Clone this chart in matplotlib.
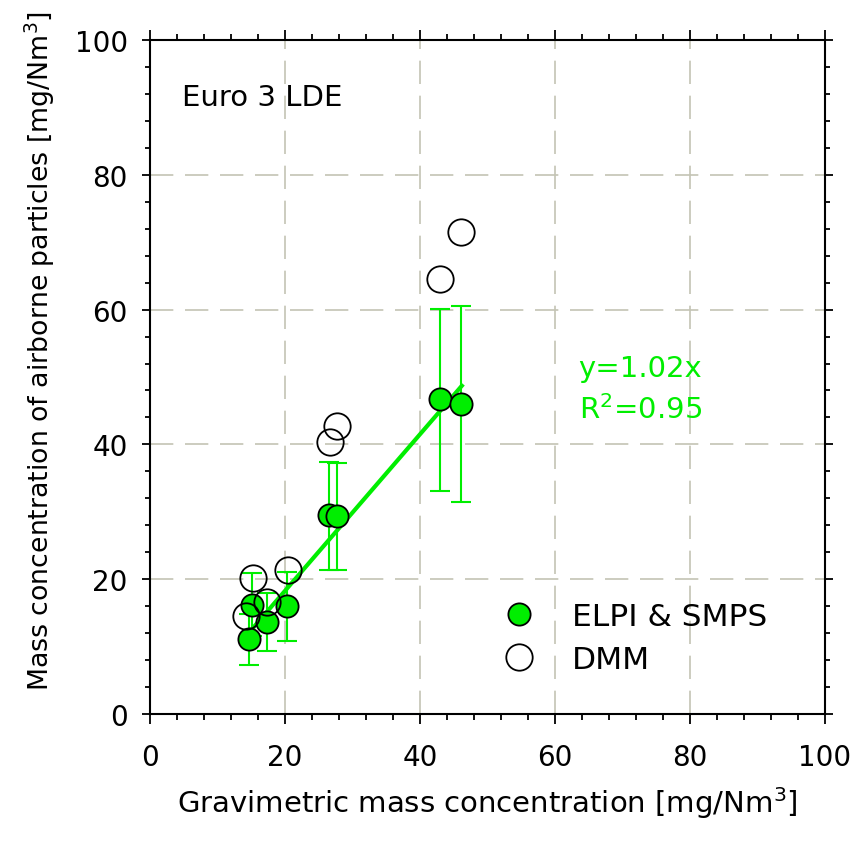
import matplotlib
matplotlib.use("Agg")
import matplotlib.pyplot as plt
from matplotlib.ticker import MultipleLocator

# gravimetric mass concentration (x) for each test point
grav = [14.6, 15.1, 17.4, 20.3, 26.5, 27.7, 43.0, 46.1]
# ELPI & SMPS estimate with error bar limits
elpi = [11.1, 16.2, 13.7, 16.1, 29.5, 29.4, 46.7, 46.0]
elpi_lo = [7.3, 11.6, 9.4, 10.9, 21.4, 21.3, 33.1, 31.4]
elpi_hi = [14.9, 20.9, 18.0, 21.0, 37.4, 37.3, 60.1, 60.6]
# DMM
dmm = [14.6, 20.2, 16.6, 21.4, 40.4, 42.8, 64.6, 71.5]
dmm_x = [14.3, 15.2, 17.4, 20.4, 26.7, 27.7, 43.0, 46.1]
# fitted line end points
fit_x = [14.6, 46.2]
fit_y = [12.0, 48.7]

green = "#00ee00"

fig = plt.figure(figsize=(8.55, 8.45), dpi=100)
ax = fig.add_axes([0.1754, 0.1538, 0.7895, 0.7977])

ax.set_xlim(0, 100)
ax.set_ylim(0, 100)
ax.xaxis.set_major_locator(MultipleLocator(20))
ax.yaxis.set_major_locator(MultipleLocator(20))
ax.xaxis.set_minor_locator(MultipleLocator(4))
ax.yaxis.set_minor_locator(MultipleLocator(4))
ax.tick_params(axis="x", which="major", direction="out", length=7, width=1.3,
               top=True, labelsize=20, pad=14)
ax.tick_params(axis="x", which="minor", direction="out", length=4.5, width=1.3, top=True)
ax.tick_params(axis="y", which="major", direction="out", length=6, width=1.3,
               right=True, labelsize=20, pad=10)
ax.tick_params(axis="y", which="minor", direction="out", length=3.5, width=1.3, right=True)
for s in ax.spines.values():
    s.set_linewidth(1.5)

ax.grid(True, which="major", color="#c4c4b4", linestyle=(0, (14, 7)), linewidth=1.2)
ax.set_axisbelow(True)

ax.plot(fit_x, fit_y, color=green, lw=3, zorder=2)

err_lo = [e - l for e, l in zip(elpi, elpi_lo)]
err_hi = [h - e for e, h in zip(elpi, elpi_hi)]
ax.errorbar(grav, elpi, yerr=[err_lo, err_hi], fmt="none", ecolor=green,
            elinewidth=1.5, capsize=7, capthick=1.5, zorder=3)
ax.plot(grav, elpi, "o", ms=16, mfc=green, mec="black", mew=1.3,
        ls="none", label="ELPI & SMPS", zorder=4)
ax.plot(dmm_x, dmm, "o", ms=19, mfc="none", mec="black", mew=1.3,
        ls="none", label="DMM", zorder=4)

ax.text(4.8, 91.5, "Euro 3 LDE", fontsize=21, va="center", ha="left")
ax.text(63.5, 51.3, "y=1.02x", color=green, fontsize=21, va="center")
ax.text(63.5, 45.3, "R$^2$=0.95", color=green, fontsize=21, va="center")

ax.legend(loc="upper left", bbox_to_anchor=(0.505, 0.185), frameon=False,
          fontsize=22.5, handletextpad=1.2, labelspacing=0.45,
          handlelength=1.0, borderaxespad=0)

ax.set_xlabel("Gravimetric mass concentration [mg/Nm$^3$]", fontsize=21, labelpad=9)
ax.set_ylabel("Mass concentration of airborne particles [mg/Nm$^3$]", fontsize=19.3)
ax.yaxis.set_label_coords(-0.137, 0.54)

fig.savefig("out.png", dpi=100)
